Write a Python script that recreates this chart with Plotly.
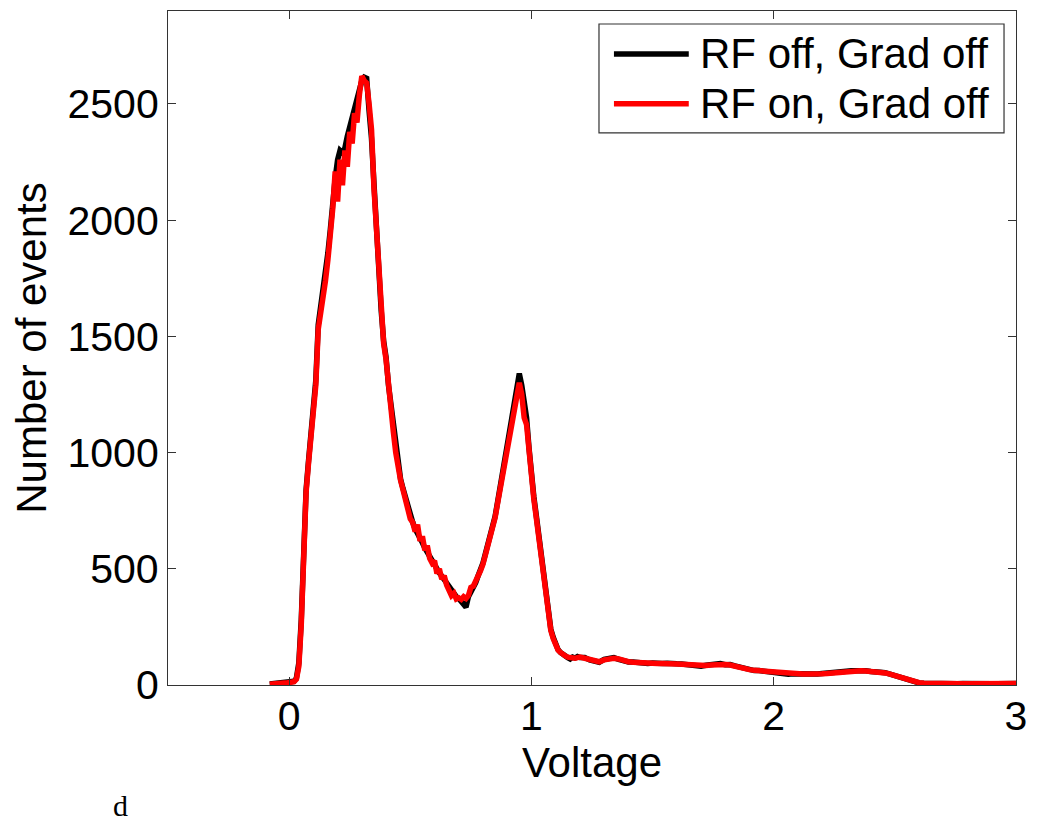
import plotly.graph_objects as go

# ---- data ----
# histogram bins: fine region -0.08 .. 1.20 step 0.01, tail 1.22 .. 3.00 step 0.02
bins_fine = [round(-0.08 + 0.01 * i, 2) for i in range(129)]
bins_tail = [round(1.22 + 0.02 * i, 2) for i in range(90)]
voltage = bins_fine + bins_tail

black_fine = [
    4, 5, 6, 7, 7, 8, 9, 10, 11, 12,
    16, 30, 95, 280, 580, 840, 965, 1065, 1170, 1310,
    1550, 1620, 1680, 1770, 1860, 1960, 2090, 2180, 2260, 2300,
    2290, 2310, 2360, 2400, 2440, 2480, 2500, 2560, 2600, 2615,
    2610, 2470, 2350, 2160, 1960, 1790, 1610, 1480, 1410, 1290,
    1210, 1100, 1010, 940, 885, 845, 805, 760, 725, 700,
    672, 655, 635, 612, 590, 570, 552, 532, 512, 498,
    482, 468, 452, 440, 422, 405, 392, 380, 372, 360,
    345, 335, 380, 398, 418, 440, 470, 495, 525, 565,
    605, 640, 672, 725, 785, 845, 905, 965, 1025, 1075,
    1130, 1190, 1260, 1340, 1290, 1220, 1150, 1020, 900, 810,
    730, 650, 550, 470, 370, 290, 240, 205, 175, 152,
    140, 130, 122, 118, 112, 120, 116, 122, 118,
]
black_tail = [
    118, 108, 104, 98, 110, 115, 118, 110, 102, 99,
    99, 95, 97, 93, 95, 92, 93, 94, 90, 91,
    90, 87, 85, 84, 81, 85, 87, 90, 92, 87,
    88, 82, 76, 69, 67, 62, 62, 59, 57, 55,
    50, 48, 46, 48, 47, 48, 46, 45, 47, 49,
    50, 52, 54, 57, 59, 61, 62, 60, 61, 58,
    59, 55, 53, 46, 41, 33, 27, 21, 14, 9,
    8, 7, 6, 6, 5, 6, 5, 5, 6, 5,
    5, 5, 6, 5, 5, 5, 5, 6, 5, 6,
]

red_fine = [
    3, 5, 6, 6, 7, 8, 9, 9, 10, 12,
    14, 25, 80, 260, 560, 830, 955, 1060, 1160, 1290,
    1530, 1590, 1660, 1740, 1830, 1930, 2050, 2210, 2080, 2260,
    2150, 2300, 2230, 2380, 2330, 2460, 2420, 2540, 2620, 2600,
    2590, 2500, 2390, 2140, 1950, 1770, 1600, 1470, 1400, 1280,
    1200, 1090, 1000, 930, 880, 840, 800, 750, 715, 700,
    660, 690, 620, 640, 580, 600, 545, 525, 535, 480,
    500, 455, 470, 430, 410, 385, 395, 370, 375, 368,
    380, 372, 385, 420, 425, 445, 462, 492, 520, 560,
    600, 640, 668, 720, 780, 840, 900, 960, 1020, 1070,
    1120, 1180, 1240, 1300, 1250, 1150, 1120, 1000, 890, 800,
    720, 640, 540, 460, 360, 280, 235, 200, 170, 150,
    140, 130, 125, 120, 118, 120, 115, 118, 120,
]
red_tail = [
    115, 110, 105, 100, 108, 112, 115, 112, 105, 100,
    98, 96, 95, 94, 94, 93, 92, 93, 91, 90,
    89, 88, 86, 83, 82, 84, 86, 88, 89, 88,
    86, 80, 74, 70, 66, 63, 61, 60, 58, 54,
    51, 49, 47, 47, 48, 47, 47, 46, 47, 48,
    49, 51, 53, 56, 58, 60, 61, 61, 60, 59,
    58, 56, 52, 47, 40, 34, 28, 22, 15, 10,
    8, 7, 6, 6, 5, 5, 5, 5, 5, 5,
    5, 5, 5, 5, 5, 5, 5, 5, 5, 6,
]

black_counts = black_fine + black_tail
red_counts = red_fine + red_tail

series_names = ["RF off, Grad off", "RF on, Grad off"]
series_colors = ["#000000", "#ff0000"]
x_ticks = [0, 1, 2, 3]
y_ticks = [0, 500, 1000, 1500, 2000, 2500]

FONT = "Arial, Liberation Sans, sans-serif"

# plot-area geometry in pixels (used only to place the hand-drawn legend box)
L, R, T, B = 168, 1018, 10, 685
W, H = R - L, B - T


def px(xpix):
    return (xpix - L) / W


def py(ypix):
    return (B - ypix) / H


fig = go.Figure()
fig.add_trace(go.Scatter(x=voltage, y=black_counts, mode="lines",
                         name=series_names[0], showlegend=False,
                         line=dict(color=series_colors[0], width=5.5)))
fig.add_trace(go.Scatter(x=voltage, y=red_counts, mode="lines",
                         name=series_names[1], showlegend=False,
                         line=dict(color=series_colors[1], width=5.5)))

axis_common = dict(
    showline=True, linecolor="#333333", linewidth=1.2, mirror="ticks",
    ticks="inside", ticklen=8, tickwidth=1, tickcolor="#333333",
    showgrid=False, zeroline=False,
    tickfont=dict(family=FONT, size=41, color="#000000"),
)

fig.update_layout(
    width=1037, height=823,
    margin=dict(l=L, r=1037 - R, t=T, b=823 - B),
    paper_bgcolor="white", plot_bgcolor="white",
    font=dict(family=FONT, color="#000000"),
    showlegend=False,
    xaxis=dict(range=[-0.5, 3], tickvals=x_ticks, ticktext=[str(t) for t in x_ticks],
               ticklabelstandoff=-5,
               title=dict(text="Voltage", font=dict(family=FONT, size=42), standoff=0),
               **axis_common),
    yaxis=dict(range=[0, 2900], tickvals=y_ticks, ticktext=[str(t) for t in y_ticks],
               title=dict(text="Number of events", font=dict(family=FONT, size=42), standoff=7),
               **axis_common),
)

# legend box (MATLAB style)
fig.add_shape(type="rect", xref="paper", yref="paper",
              x0=px(600), x1=px(1006), y0=py(132), y1=py(23),
              line=dict(color="#333333", width=1.2), fillcolor="white", layer="above")
for i, (name, col) in enumerate(zip(series_names, series_colors)):
    yrow = 53 + 50 * i
    fig.add_shape(type="line", xref="paper", yref="paper",
                  x0=px(615), x1=px(690), y0=py(yrow), y1=py(yrow),
                  line=dict(color=col, width=5.5), layer="above")
    fig.add_annotation(text=name, xref="paper", yref="paper",
                       x=px(699), y=py(yrow), xanchor="left", yanchor="middle",
                       showarrow=False,
                       font=dict(family=FONT, size=42, color="#000000"))

fig.add_annotation(text="d", xref="paper", yref="paper",
                   x=px(120), y=py(806),
                   showarrow=False, xanchor="center", yanchor="middle",
                   font=dict(family="Liberation Serif, Times New Roman, serif", size=30, color="#000000"))

fig.write_html("out.html")
